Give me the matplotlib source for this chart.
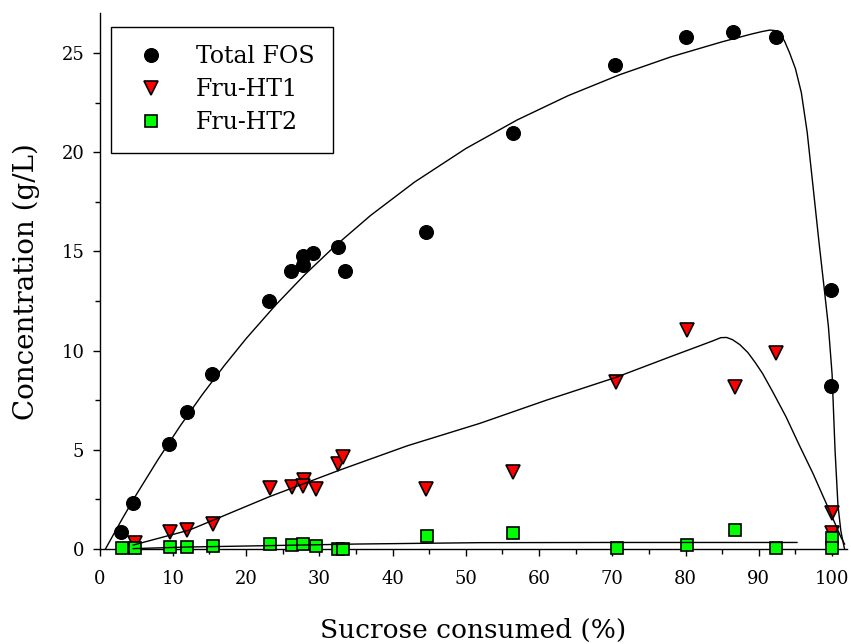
import matplotlib
matplotlib.use("Agg")
import matplotlib.pyplot as plt
from matplotlib.ticker import MultipleLocator

plt.rcParams['font.family'] = ['DejaVu Serif']

# Measured data
fos_x = [2.9, 4.6, 9.5, 11.9, 15.3, 23.1, 26.2, 27.8, 27.8, 29.2, 32.5, 33.5, 44.5,
         56.4, 70.4, 80.1, 86.5, 92.3, 99.9, 99.9]
fos_y = [0.86, 2.3, 5.3, 6.9, 8.8, 12.5, 14.0, 14.3, 14.75, 14.9, 15.24, 14.0, 15.96,
         20.98, 24.4, 25.8, 26.07, 25.8, 13.05, 8.2]

ht1_x = [4.8, 9.6, 11.9, 15.5, 23.2, 26.3, 27.9, 27.8, 29.5, 32.6, 33.2, 44.6,
         56.4, 70.5, 80.2, 86.7, 92.4, 99.95, 99.95]
ht1_y = [0.32, 0.84, 0.96, 1.26, 3.06, 3.1, 3.48, 3.2, 3.0, 4.3, 4.65, 3.0,
         3.9, 8.43, 11.04, 8.15, 9.9, 1.83, 0.8]

ht2_x = [3.05, 4.9, 9.6, 11.95, 15.5, 23.2, 26.3, 27.8, 29.5, 32.6, 33.2, 44.7,
         56.4, 70.6, 80.2, 86.7, 92.4, 100.0, 100.0]
ht2_y = [0.03, 0.07, 0.12, 0.12, 0.17, 0.24, 0.2, 0.24, 0.15, 0.0, 0.0, 0.65,
         0.82, 0.03, 0.2, 0.96, 0.03, 0.54, 0.03]

# Fitted curves
fos_fit_x = [0.8, 3, 5, 8, 11, 14, 17, 20, 24, 28, 32, 37, 43, 50, 57, 64, 71, 78, 85,
             89, 90.5, 91.5, 92.3, 92.9, 93.5, 94.2, 95.0, 95.8, 96.6, 97.4, 98.2,
             98.9, 99.5, 100.0, 100.4, 100.8, 101.2, 101.5, 101.7]
fos_fit_y = [0, 1.46, 2.73, 4.52, 6.20, 7.77, 9.23, 10.60, 12.28, 13.82, 15.22, 16.81,
             18.49, 20.18, 21.62, 22.85, 23.90, 24.80, 25.56, 25.95, 26.08, 26.15, 26.12,
             25.95, 25.6, 25.0, 24.2, 23.0, 21.0, 18.26, 15.5, 13.2, 11.2, 8.8, 5.0,
             2.2, 0.9, 0.35, 0.0]

ht1_fit_x = [4.6, 12.3, 23.2, 32.8, 42, 51.9, 61, 70.5, 78, 82, 83.8, 84.8, 85.6, 86.4,
             87.4, 88.5, 89.5, 90.5, 92, 93.7, 95.5, 97.4, 98.5, 99.6, 100.5, 101.2, 101.7]
ht1_fit_y = [0.2, 0.96, 2.64, 3.98, 5.2, 6.33, 7.5, 8.65, 9.7, 10.25, 10.5, 10.65, 10.66,
             10.55, 10.3, 9.9, 9.4, 8.85, 7.85, 6.67, 5.25, 3.8, 2.88, 1.97, 1.2, 0.6, 0.25]

ht2_fit_x = [4.6, 12, 20, 35, 52, 70, 85, 95.2]
ht2_fit_y = [0.02, 0.1, 0.15, 0.25, 0.32, 0.33, 0.33, 0.33]

fig = plt.figure(figsize=(8.51, 6.44), dpi=100)
ax = fig.add_axes([0.117, 0.1475, 0.878, 0.832])

ax.plot(fos_x, fos_y, 'o', color='black', ms=10, mec='black', mew=0.8,
        label='Total FOS', zorder=3, clip_on=False)
ax.plot(ht1_x, ht1_y, 'v', color='#ff0000', ms=10.5, mec='black', mew=1.2,
        label='Fru-HT1', zorder=3.1, clip_on=False)
ax.plot(ht2_x, ht2_y, 's', color='#00ff00', ms=9, mec='black', mew=1.2,
        label='Fru-HT2', zorder=3.2, clip_on=False)

for cx, cy in [(fos_fit_x, fos_fit_y), (ht1_fit_x, ht1_fit_y), (ht2_fit_x, ht2_fit_y)]:
    ax.plot(cx, cy, '-', color='black', lw=1.0, zorder=4, clip_on=False)

ax.set_xlim(0, 102)
ax.set_ylim(0, 27)
ax.xaxis.set_major_locator(MultipleLocator(10))
ax.xaxis.set_minor_locator(MultipleLocator(5))
ax.yaxis.set_major_locator(MultipleLocator(5))
ax.yaxis.set_minor_locator(MultipleLocator(2.5))
ax.spines['top'].set_visible(False)
ax.spines['right'].set_visible(False)
ax.spines['left'].set_linewidth(1.0)
ax.spines['bottom'].set_linewidth(1.0)
ax.tick_params(axis='both', which='major', direction='out', length=5, width=1.0, labelsize=13)
ax.tick_params(axis='both', which='minor', direction='out', length=3.5, width=1.0)
ax.tick_params(axis='x', which='major', pad=10)
ax.tick_params(axis='y', which='major', pad=6)

ax.set_xlabel('Sucrose consumed (%)', fontsize=19, labelpad=22)
ax.set_ylabel('Concentration (g/L)', fontsize=20, labelpad=15)

leg = ax.legend(loc='upper left', bbox_to_anchor=(0.0147, 0.975), fontsize=17,
                frameon=True, fancybox=False, edgecolor='black', framealpha=1,
                borderpad=0.8, handlelength=1.86, handletextpad=0.94, labelspacing=0.42,
                borderaxespad=0, numpoints=1)
leg.get_frame().set_linewidth(1.0)

fig.savefig('out.png', dpi=100)
